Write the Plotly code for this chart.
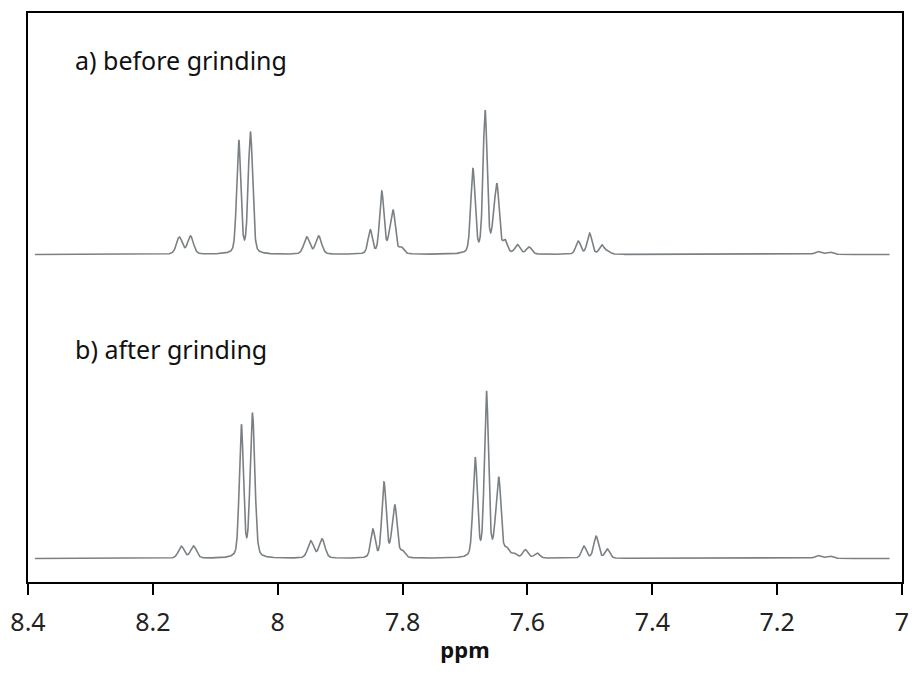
import numpy as np
import plotly.graph_objects as go

# ---- data (ppm, intensity, line FWHM in ppm) ----
before_pos = [8.1576, 8.1397, 8.0624, 8.0444, 8.0418, 7.9535, 7.9344, 7.8519, 7.8333,
              7.8201, 7.8148, 7.8021, 7.6873, 7.6678, 7.6544, 7.6487, 7.6360, 7.6159,
              7.5973, 7.5186, 7.5005, 7.4810, 7.4714, 7.1349, 7.1163]
before_int = [17, 18, 113, 92, 38, 17, 18, 24, 62,
              15, 38, 6, 84, 142, 19, 63, 12, 9,
              7, 13, 21, 9, 3, 3, 2.5]
before_fwhm = [0.011, 0.011, 0.0078, 0.0078, 0.0078, 0.011, 0.011, 0.0082, 0.0082,
               0.0082, 0.0082, 0.009, 0.0082, 0.0078, 0.0082, 0.0082, 0.009, 0.010,
               0.010, 0.009, 0.009, 0.009, 0.010, 0.012, 0.012]

after_pos = [8.1544, 8.1349, 8.0582, 8.0413, 8.0380, 7.9471, 7.9290, 7.8476, 7.8297,
             7.8160, 7.8119, 7.8000, 7.6837, 7.6656, 7.6508, 7.6456, 7.6333, 7.6217,
             7.6032, 7.5846, 7.5095, 7.4900, 7.4719, 7.1349, 7.1163]
after_int = [12, 12, 132, 112, 48, 17, 19, 28, 75,
             15, 44, 6, 99, 165, 19, 72, 8, 4,
             8, 5, 12, 22, 9, 3, 2.5]
after_fwhm = [0.011, 0.011, 0.0078, 0.0078, 0.0078, 0.011, 0.011, 0.0082, 0.0082,
              0.0082, 0.0082, 0.009, 0.0082, 0.0078, 0.0082, 0.0082, 0.009, 0.010,
              0.010, 0.010, 0.009, 0.009, 0.009, 0.012, 0.012]

labels = ["a) before grinding", "b) after grinding"]
x_ticks = [8.4, 8.2, 8.0, 7.8, 7.6, 7.4, 7.2, 7.0]
tick_text = ["8.4", "8.2", "8", "7.8", "7.6", "7.4", "7.2", "7"]

# stacking offsets (plot layout, arbitrary intensity units)
offset_before = 327.5
offset_after = 23.5
lorentz_fraction = 0.3

ppm = np.linspace(8.389, 7.02, 5000)


def spectrum(pos, inten, fwhm):
    y = np.zeros_like(ppm)
    for p, h, f in zip(pos, inten, fwhm):
        d2 = ((ppm - p) / f) ** 2
        g = np.exp(-4.0 * np.log(2.0) * d2)
        lz = 1.0 / (1.0 + 4.0 * d2)
        y += h * ((1 - lorentz_fraction) * g + lorentz_fraction * lz)
    return y


y_before = spectrum(before_pos, before_int, before_fwhm) + offset_before
y_after = spectrum(after_pos, after_int, after_fwhm) + offset_after

fig = go.Figure()
for yy in (y_before, y_after):
    fig.add_trace(go.Scatter(x=ppm, y=yy, mode="lines",
                             line=dict(color="#7b8084", width=1.6), hoverinfo="skip"))

font_family = "Noto Sans, Open Sans, sans-serif"

fig.add_annotation(text=labels[0], xref="paper", yref="paper", x=0.052, y=0.918,
                   xanchor="left", yanchor="middle", showarrow=False,
                   font=dict(family=font_family, size=25, color="#111111"))
fig.add_annotation(text=labels[1], xref="paper", yref="paper", x=0.052, y=0.41,
                   xanchor="left", yanchor="middle", showarrow=False,
                   font=dict(family=font_family, size=25, color="#111111"))

fig.update_layout(
    width=912, height=681,
    margin=dict(l=28, r=3, t=13, b=99),
    paper_bgcolor="white", plot_bgcolor="white",
    showlegend=False,
    font=dict(family=font_family),
)
fig.update_xaxes(
    range=[8.4, 7.0], tickvals=x_ticks, ticktext=tick_text,
    showline=True, linecolor="black", linewidth=1.5, mirror=True,
    ticks="outside", ticklen=11, tickwidth=1.5, tickcolor="black",
    ticklabelstandoff=6, ticklabeloverflow="allow",
    showgrid=False, zeroline=False,
    tickfont=dict(family=font_family, size=25, color="#222222"),
    title=dict(text="<b>ppm</b>", standoff=6,
               font=dict(family=font_family, size=22, color="#111111")),
)
fig.update_yaxes(
    range=[0, 569], showline=True, linecolor="black", linewidth=1.5, mirror=True,
    showticklabels=False, ticks="", showgrid=False, zeroline=False,
)

fig.write_html("out.html")
